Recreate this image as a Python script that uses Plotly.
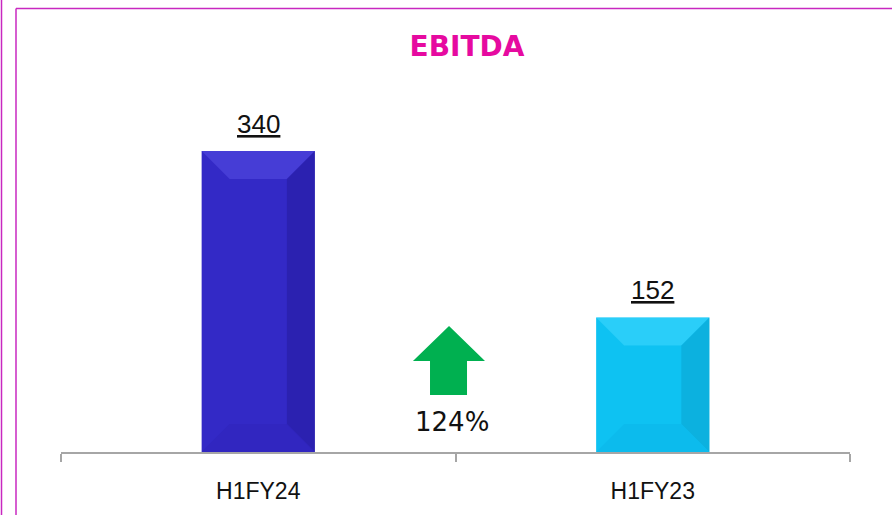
import plotly.graph_objects as go

# ---- data ----
categories = ["H1FY24", "H1FY23"]
ebitda = [340, 152]
growth_label = "124%"
title_text = "EBITDA"

bar_colors = ["#3329C6", "#0EC2F2"]
bevel_light = ["#5A52E6", "#46DAFF"]
bevel_dark = ["#23199A", "#0A9FCC"]
bevel_side = ["#2E24B8", "#0BB4E6"]

W, H = 892, 515
ML, MR, MT, MB = 61, 42, 98, 63
YMAX = 400
pw = W - ML - MR
ph = H - MT - MB


def px_x(p):
    return (p - ML) / pw


def px_y(p):
    return (H - MB - p) / ph


fig = go.Figure()
fig.add_trace(go.Bar(
    x=categories, y=ebitda,
    marker=dict(color=bar_colors, line=dict(color="rgba(0,0,0,0)", width=0)),
    width=0.287, hoverinfo="skip", showlegend=False,
))

shapes = []
annotations = []
bw = 0.287
bev_x = 28 / (pw / len(categories))
bev_y = 28 / (ph / YMAX)
for i, v in enumerate(ebitda):
    x0, x1 = i - bw / 2, i + bw / 2
    shapes.append(dict(type="path", xref="x", yref="y",
                       path=f"M{x0},{v} L{x1},{v} L{x1-bev_x},{v-bev_y} L{x0+bev_x},{v-bev_y} Z",
                       fillcolor=bevel_light[i], line=dict(width=0), opacity=0.5, layer="above"))
    shapes.append(dict(type="path", xref="x", yref="y",
                       path=f"M{x1},{v} L{x1},0 L{x1-bev_x},{bev_y} L{x1-bev_x},{v-bev_y} Z",
                       fillcolor=bevel_dark[i], line=dict(width=0), opacity=0.5, layer="above"))
    shapes.append(dict(type="path", xref="x", yref="y",
                       path=f"M{x0},0 L{x1},0 L{x1-bev_x},{bev_y} L{x0+bev_x},{bev_y} Z",
                       fillcolor=bevel_side[i], line=dict(width=0), opacity=0.45, layer="above"))
    annotations.append(dict(x=i, y=v, xref="x", yref="y", text=f"<u>{v}</u>",
                            showarrow=False, yanchor="bottom", yshift=10,
                            font=dict(family="Liberation Sans", size=26, color="#111111")))

# green up arrow (decoration)
cx = 449
pts = [(cx, 326), (cx + 36, 361), (cx + 18, 361), (cx + 18, 395),
       (cx - 19, 395), (cx - 19, 361), (cx - 36, 361)]
path = "M" + " L".join(f"{px_x(a):.4f},{px_y(b):.4f}" for a, b in pts) + " Z"
shapes.append(dict(type="path", xref="paper", yref="paper", path=path,
                   fillcolor="#00B050", line=dict(width=0)))
annotations.append(dict(x=px_x(452), y=px_y(422), xref="paper", yref="paper",
                        text=growth_label, showarrow=False, xanchor="center", yanchor="middle",
                        font=dict(family="DejaVu Sans", size=26, color="#111111")))

# frame lines
border = "#C828C0"
shapes.append(dict(type="line", xref="paper", yref="paper", x0=px_x(1.5), x1=px_x(1.5),
                   y0=px_y(0), y1=px_y(515), line=dict(color=border, width=1.5)))
shapes.append(dict(type="line", xref="paper", yref="paper", x0=px_x(16), x1=px_x(16),
                   y0=px_y(8.5), y1=px_y(515), line=dict(color=border, width=1.5)))
shapes.append(dict(type="line", xref="paper", yref="paper", x0=px_x(16), x1=px_x(892),
                   y0=px_y(8.5), y1=px_y(8.5), line=dict(color=border, width=1.5)))

fig.update_layout(
    width=W, height=H,
    margin=dict(l=ML, r=MR, t=MT, b=MB),
    paper_bgcolor="white", plot_bgcolor="white",
    title=dict(text=f"<b>{title_text}</b>", x=467 / W, y=1 - 46 / H,
               xanchor="center", yanchor="middle",
               font=dict(family="DejaVu Sans", size=28, color="#E60AA0")),
    xaxis=dict(type="category", categoryorder="array", categoryarray=categories,
               range=[-0.5, len(categories) - 0.5],
               showline=True, linecolor="#A6A6A6", linewidth=2,
               ticks="outside", tickson="boundaries", ticklen=8, tickcolor="#A6A6A6", tickwidth=2,
               ticklabelstandoff=17,
               showgrid=False, zeroline=False,
               tickfont=dict(family="Liberation Sans", size=23, color="#111111")),
    yaxis=dict(range=[0, YMAX], visible=False, showgrid=False, zeroline=False),
    shapes=shapes, annotations=annotations,
)
fig.write_html("out.html", config={"displayModeBar": False},
               post_script="document.body.style.margin='0';")
